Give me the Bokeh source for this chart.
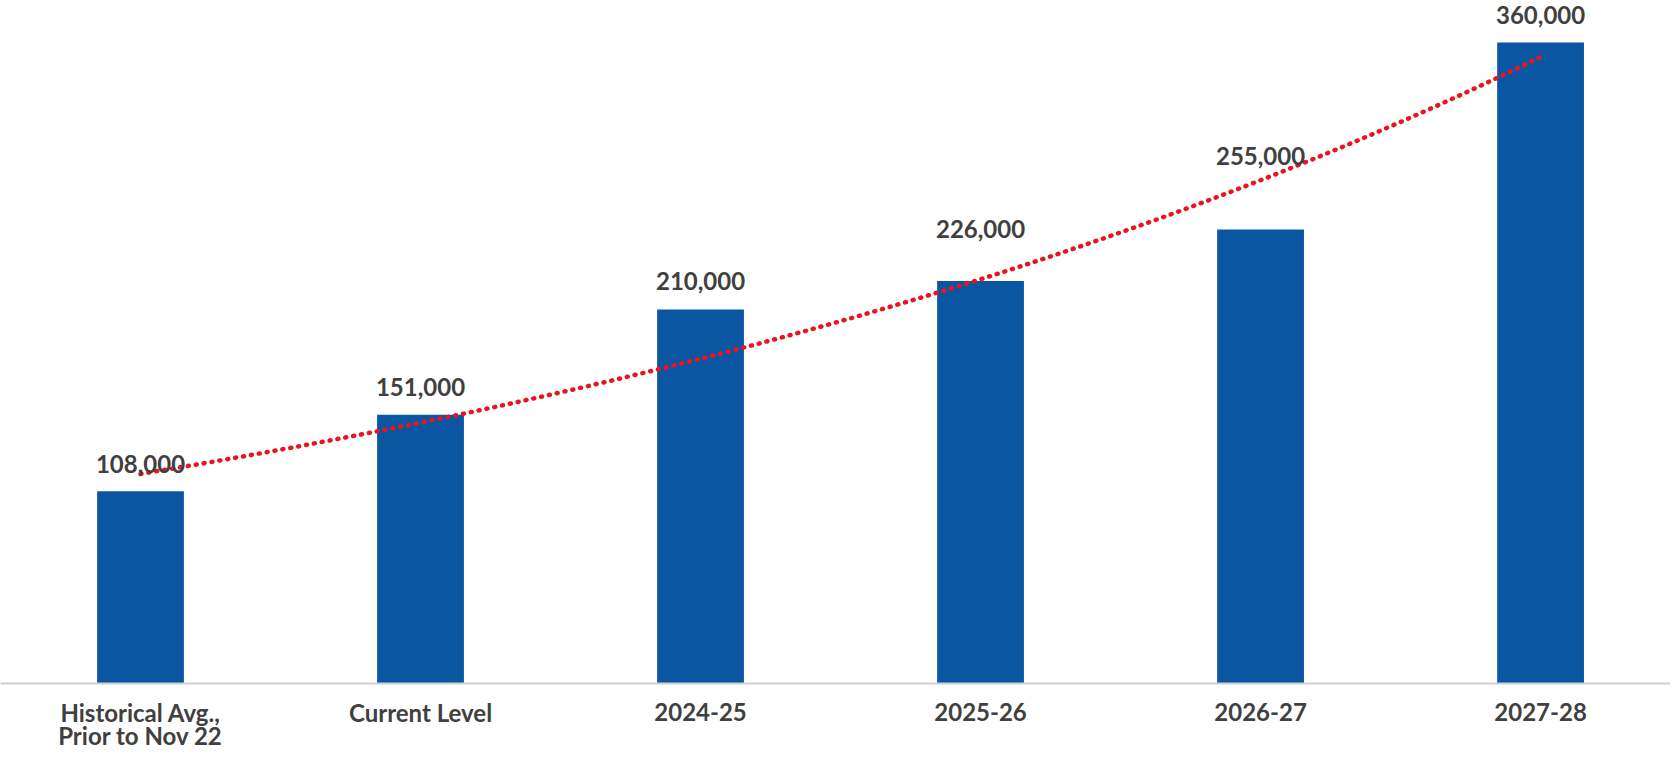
import numpy as np
from bokeh.plotting import figure
from bokeh.models import ColumnDataSource, Range1d, Span
from bokeh.core.properties import value
from bokeh.embed import file_html
from bokeh.resources import INLINE

categories = ["Historical Avg.,\nPrior to Nov 22", "Current Level", "2024-25", "2025-26", "2026-27", "2027-28"]
values = [108000, 151000, 210000, 226000, 255000, 360000]
value_labels = ["108,000", "151,000", "210,000", "226,000", "255,000", "360,000"]
label_y = [123000, 166800, 225800, 255000, 296500, 375200]

x = list(range(1, len(categories) + 1))
line1 = [c.split("\n")[0] for c in categories]
line2 = [c.split("\n")[1] if "\n" in c else "" for c in categories]

FONT = "Lato"
TEXT = "#404040"

p = figure(width=1670, height=752, output_backend="svg", toolbar_location=None,
           x_range=Range1d(0.5, 6.464), y_range=Range1d(-38752, 383588),
           min_border=0)
p.outline_line_color = None
p.grid.grid_line_color = None
p.axis.visible = False
p.background_fill_color = "white"
p.border_fill_color = "white"

src = ColumnDataSource(dict(x=x, top=values, label=value_labels, ly=label_y,
                            l1=line1, l2=line2, zero=[0] * len(x)))

p.add_layout(Span(location=0, dimension="width", line_color="#D0D0D0", line_width=2))
p.vbar(x="x", top="top", width=0.31, bottom=0, source=src, fill_color="#0B56A3", line_color=None)

# exponential trendline fitted to the values
coef = np.polyfit(np.array(x, dtype=float), np.log(np.array(values, dtype=float)), 1)
tx = np.linspace(1, 6, 200)
ty = np.exp(coef[1] + coef[0] * tx)
p.line(tx, ty, line_color="#E8141E", line_width=4.5, line_dash="1 7", line_cap="round")

p.text(x="x", y="ly", text="label", source=src, text_align="center", text_baseline="middle",
       text_font=value(FONT), text_font_style="bold", text_font_size="24px", text_color=TEXT)

for col, off in (("l1", 29), ("l2", 52)):
    p.text(x="x", y="zero", text=col, source=src, text_align="center", text_baseline="middle",
           y_offset=off, text_font=value(FONT), text_font_style="bold",
           text_font_size="24px", text_color=TEXT)

open("out.html", "w").write(file_html(p, INLINE))
